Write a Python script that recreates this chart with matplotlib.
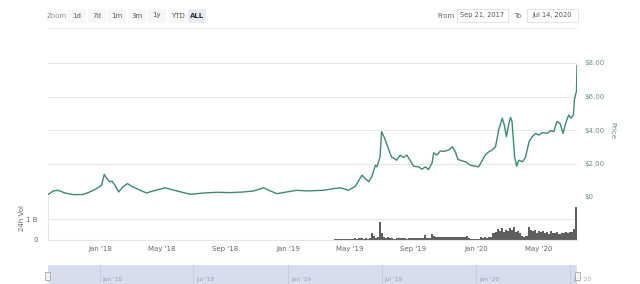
import matplotlib
matplotlib.use("Agg")
import matplotlib.pyplot as plt
import matplotlib.dates as mdates
from matplotlib.patches import Rectangle
import pandas as pd

# %% data (price in USD, volume in billions)
price_dates = [
    "2017-09-23", "2017-10-02", "2017-10-11", "2017-10-25", "2017-11-10", "2017-11-29",
    "2017-12-12", "2017-12-25", "2018-01-04", "2018-01-09", "2018-01-14", "2018-01-20",
    "2018-01-24", "2018-01-30", "2018-02-06", "2018-02-14", "2018-02-23", "2018-03-03",
    "2018-03-13", "2018-03-23", "2018-04-01", "2018-04-14", "2018-05-07", "2018-05-30",
    "2018-06-25", "2018-07-21", "2018-08-16", "2018-09-10", "2018-10-06", "2018-10-26",
    "2018-11-14", "2018-11-27", "2018-12-10", "2018-12-29", "2019-01-17", "2019-02-06",
    "2019-03-10", "2019-03-30", "2019-04-12", "2019-04-28", "2019-05-11", "2019-05-24",
    "2019-06-06", "2019-06-12", "2019-06-19", "2019-06-22", "2019-06-28", "2019-07-01",
    "2019-07-07", "2019-07-14", "2019-07-20", "2019-07-30",
    "2019-08-06", "2019-08-12", "2019-08-19", "2019-08-25", "2019-09-01", "2019-09-11",
    "2019-09-17", "2019-09-24", "2019-09-30", "2019-10-07", "2019-10-10", "2019-10-16",
    "2019-10-23", "2019-10-29", "2019-11-08", "2019-11-15", "2019-11-21", "2019-11-26",
    "2019-12-04", "2019-12-11", "2019-12-20", "2019-12-30", "2020-01-05", "2020-01-12",
    "2020-01-18", "2020-01-25", "2020-01-31", "2020-02-07", "2020-02-13", "2020-02-20",
    "2020-02-24", "2020-02-28", "2020-03-04", "2020-03-07", "2020-03-10", "2020-03-15",
    "2020-03-19", "2020-03-23", "2020-03-30", "2020-04-05", "2020-04-12", "2020-04-18",
    "2020-04-25", "2020-05-01", "2020-05-08", "2020-05-17", "2020-05-24", "2020-05-30",
    "2020-06-05", "2020-06-11", "2020-06-17", "2020-06-23", "2020-06-28", "2020-07-02",
    "2020-07-07", "2020-07-09", "2020-07-11", "2020-07-13", "2020-07-14",
]
price_values = [
    0.16, 0.36, 0.40, 0.24, 0.14, 0.15,
    0.30, 0.50, 0.70, 1.35, 1.10, 0.90,
    0.95, 0.70, 0.30, 0.60, 0.80, 0.65,
    0.50, 0.36, 0.24, 0.36, 0.55, 0.36,
    0.16, 0.24, 0.28, 0.26, 0.30, 0.36,
    0.55, 0.36, 0.20, 0.30, 0.40, 0.36,
    0.40, 0.50, 0.55, 0.40, 0.64, 1.30,
    0.91, 1.21, 1.90, 1.80, 2.40, 3.90,
    3.50, 2.90, 2.40, 2.20,
    2.50, 2.36, 2.50, 2.20, 1.84, 1.80,
    1.66, 1.80, 1.64, 2.04, 2.64, 2.50,
    2.75, 2.72, 2.80, 3.00, 2.70, 2.24,
    2.16, 2.10, 1.90, 1.84, 1.80, 2.16,
    2.50, 2.70, 2.80, 3.00, 4.00, 4.70,
    4.30, 3.60, 4.40, 4.75, 4.50, 2.40,
    1.84, 2.20, 2.10, 2.36, 3.30, 3.60,
    3.80, 3.70, 3.84, 3.80, 3.96, 3.90,
    4.50, 4.40, 3.80, 4.50, 4.90, 4.70,
    4.90, 5.80, 6.10, 6.30, 7.85,
]

# 24h volume, one value every 4 days from 2019-04-01
vol_start = "2019-04-01"
vol_values = [
    0.01, 0.01, 0.01, 0.015, 0.01, 0.012, 0.01, 0.015, 0.02, 0.03,
    0.05, 0.04, 0.06, 0.05, 0.04, 0.05, 0.03, 0.05, 0.34, 0.15,
    0.09, 0.12, 0.87, 0.30, 0.12, 0.09, 0.11, 0.08, 0.06, 0.04,
    0.05, 0.06, 0.05, 0.06, 0.05, 0.04, 0.05, 0.06, 0.07, 0.05,
    0.06, 0.07, 0.06, 0.08, 0.20, 0.07, 0.06, 0.25, 0.16, 0.12,
    0.10, 0.14, 0.11, 0.12, 0.10, 0.13, 0.11, 0.12, 0.14, 0.10,
    0.11, 0.13, 0.10, 0.12, 0.15, 0.09, 0.04, 0.03, 0.03, 0.04,
    0.03, 0.10, 0.09, 0.12, 0.08, 0.11, 0.14, 0.30, 0.38, 0.50,
    0.42, 0.55, 0.36, 0.47, 0.40, 0.58, 0.45, 0.62, 0.38, 0.44,
    0.30, 0.15, 0.13, 0.16, 0.62, 0.48, 0.42, 0.45, 0.32, 0.40,
    0.35, 0.42, 0.30, 0.36, 0.28, 0.40, 0.33, 0.30, 0.38, 0.27,
    0.34, 0.30, 0.36, 0.32, 0.35, 0.38, 0.50, 1.60,
]

price_ticks = [0, 2, 4, 6, 8]
price_labels = ["$0", "$2.00", "$4.00", "$6.00", "$8.00"]
vol_ticks = [0, 1]
vol_labels = ["0", "1 B"]
zoom_buttons = ["1d", "7d", "1m", "3m", "1y", "YTD", "ALL"]
date_from = "Sep 21, 2017"
date_to = "Jul 14, 2020"
nav_ticks = ["2018-01-01", "2018-07-01", "2019-01-01", "2019-07-01", "2020-01-01", "2020-07-01"]

x_start = pd.Timestamp("2017-09-21")
x_end = pd.Timestamp("2020-07-14")

GREEN = "#3b8b6d"
LABEL = "#6e8f82"
GRID = "#e6e6e6"
TXT = "#666666"

W, H = 640, 284
fig = plt.figure(figsize=(W / 100, H / 100), dpi=100)
fig.patch.set_facecolor("white")


def px_axes(x0, y0, x1, y1):
    # axes rectangle given in image pixels (top-left origin)
    return fig.add_axes([x0 / W, 1 - y1 / H, (x1 - x0) / W, (y1 - y0) / H])


# %% price panel
ax_p = px_axes(47.5, 63, 577, 197)
ax_p.plot(pd.to_datetime(price_dates), price_values, color=GREEN, lw=1.0)
ax_p.set_xlim(x_start, x_end)
ax_p.set_ylim(0, 8)
ax_p.set_yticks(price_ticks)
ax_p.set_yticklabels(price_labels)
ax_p.yaxis.tick_right()
ax_p.tick_params(axis="y", length=0, labelsize=5, labelcolor=LABEL, pad=5.5)
ax_p.set_xticks([])
ax_p.grid(axis="y", color=GRID, lw=0.7)
for s in ax_p.spines.values():
    s.set_visible(False)
ax_p.set_facecolor("none")
fig.text(612 / W, 1 - 130 / H, "Price", rotation=270, ha="center", va="center",
         fontsize=5, color=LABEL)

# %% volume panel
ax_v = px_axes(47.5, 197, 577, 239.5)
vol_dates = pd.date_range(vol_start, periods=len(vol_values), freq="4D")
ax_v.bar(vol_dates, vol_values, width=4, color="#5f5f5f", lw=0)
ax_v.set_xlim(x_start, x_end)
ax_v.set_ylim(0, 2.1)
ax_v.set_yticks(vol_ticks)
ax_v.set_yticklabels(vol_labels)
ax_v.tick_params(axis="y", length=0, labelsize=5, labelcolor=TXT, pad=7)
ax_v.grid(axis="y", color=GRID, lw=0.7)
ax_v.set_axisbelow(True)
ax_v.xaxis.set_major_locator(mdates.MonthLocator(bymonth=[1, 5, 9]))
ax_v.xaxis.set_major_formatter(mdates.DateFormatter("%b '%y"))
ax_v.tick_params(axis="x", length=0, labelsize=5, labelcolor=TXT, pad=4.5)
for k in ["top", "right"]:
    ax_v.spines[k].set_visible(False)
ax_v.spines["left"].set_color(GRID)
ax_v.spines["bottom"].set_color(GRID)
fig.text(22 / W, 1 - 218 / H, "24h Vol", rotation=90, ha="center", va="center",
         fontsize=5, color=TXT)

# %% navigator
ax_n = px_axes(47.5, 265, 577, 292)
ax_n.set_xlim(x_start, x_end)
ax_n.set_ylim(0, 1)
ax_n.set_facecolor("#d8dcee")
for d in pd.to_datetime(nav_ticks):
    ax_n.axvline(d, color="#c4c8dc", lw=0.6)
    ax_n.text(d + pd.Timedelta(days=5), 0.45, d.strftime("%b '%y"), fontsize=4.2,
              color="#9a9fb5", va="center", ha="left", clip_on=False)
ax_n.set_xticks([])
ax_n.set_yticks([])
for s in ax_n.spines.values():
    s.set_visible(False)

# %% overlay for the range selector UI (pixel coordinates)
ui = fig.add_axes([0, 0, 1, 1])
ui.set_xlim(0, W)
ui.set_ylim(H, 0)
ui.axis("off")
ui.set_facecolor("none")

ui.text(57, 15.5, "Zoom", fontsize=5, color="#888888", ha="center", va="center")
btn_x = [77, 97, 117, 137, 157, 178, 197]
for bx, lab in zip(btn_x, zoom_buttons):
    sel = lab == "ALL"
    ui.add_patch(Rectangle((bx - 9, 8.5), 18, 14, facecolor="#e6ebf5" if sel else "#f7f7f7",
                           edgecolor="none"))
    ui.text(bx, 15.5, lab, fontsize=5, color="#333333" if sel else "#555555",
            fontweight="bold" if sel else "normal", ha="center", va="center")

ui.text(446, 15.5, "From", fontsize=5, color="#666666", ha="center", va="center")
ui.add_patch(Rectangle((457, 9), 51, 13, facecolor="white", edgecolor="#dddddd", lw=0.6))
ui.text(482.5, 15.5, date_from, fontsize=4.8, color="#555555", ha="center", va="center")
ui.text(518, 15.5, "To", fontsize=5, color="#666666", ha="center", va="center")
ui.add_patch(Rectangle((527, 9), 51, 13, facecolor="white", edgecolor="#dddddd", lw=0.6))
ui.text(552.5, 15.5, date_to, fontsize=4.8, color="#555555", ha="center", va="center")

ui.plot([48, 577], [28, 28], color="#ececec", lw=0.6)

# navigator handles
for hx in [47.5, 577]:
    ui.add_patch(Rectangle((hx - 2.5, 272), 5, 8, facecolor="#f2f2f2", edgecolor="#999999", lw=0.5))

fig.savefig("out.png", dpi=100)
